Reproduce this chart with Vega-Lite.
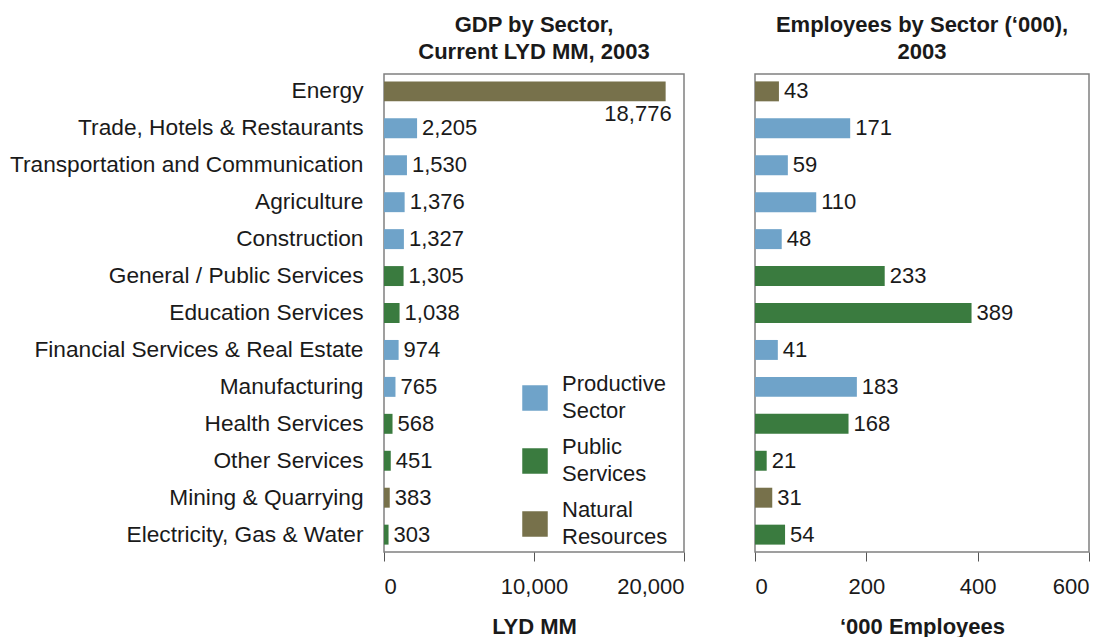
{
  "$schema": "https://vega.github.io/schema/vega-lite/v6.json",
  "background": "white",
  "padding": {"left": 8, "top": 13, "right": 5, "bottom": 5},
  "data": {"values": [
    {"sector": "Energy", "gdp": 18776, "emp": 43, "group": "Natural Resources"},
    {"sector": "Trade, Hotels & Restaurants", "gdp": 2205, "emp": 171, "group": "Productive Sector"},
    {"sector": "Transportation and Communication", "gdp": 1530, "emp": 59, "group": "Productive Sector"},
    {"sector": "Agriculture", "gdp": 1376, "emp": 110, "group": "Productive Sector"},
    {"sector": "Construction", "gdp": 1327, "emp": 48, "group": "Productive Sector"},
    {"sector": "General / Public Services", "gdp": 1305, "emp": 233, "group": "Public Services"},
    {"sector": "Education Services", "gdp": 1038, "emp": 389, "group": "Public Services"},
    {"sector": "Financial Services & Real Estate", "gdp": 974, "emp": 41, "group": "Productive Sector"},
    {"sector": "Manufacturing", "gdp": 765, "emp": 183, "group": "Productive Sector"},
    {"sector": "Health Services", "gdp": 568, "emp": 168, "group": "Public Services"},
    {"sector": "Other Services", "gdp": 451, "emp": 21, "group": "Public Services"},
    {"sector": "Mining & Quarrying", "gdp": 383, "emp": 31, "group": "Natural Resources"},
    {"sector": "Electricity, Gas & Water", "gdp": 303, "emp": 54, "group": "Public Services"}
  ]},
  "hconcat": [
    {
      "width": 300,
      "height": 478,
      "title": {"text": ["GDP by Sector,", "Current LYD MM, 2003"]},
      "encoding": {
        "y": {"field": "sector", "type": "nominal", "sort": null, "title": null,
              "scale": {"paddingInner": 0.46, "paddingOuter": 0.2},
              "axis": {"ticks": false, "domain": false, "labelPadding": 21, "labelLimit": 500, "labelFontSize": 22.7}},
        "x": {"field": "gdp", "type": "quantitative", "title": "LYD MM",
              "scale": {"domain": [0, 20000], "nice": false},
              "axis": {"values": [0, 10000, 20000], "format": ",d", "grid": false}}
      },
      "layer": [
        {"mark": {"type": "bar"},
         "encoding": {"color": {"field": "group", "type": "nominal",
            "scale": {"domain": ["Productive Sector", "Public Services", "Natural Resources"], "range": ["#6fa3c9", "#3a7b3f", "#77714b"]},
            "legend": {"orient": "none", "legendX": 138, "legendY": 311, "title": null,
              "symbolType": "square", "symbolSize": 650, "symbolStrokeWidth": 0, "symbolOpacity": 1,
              "labelFontSize": 22, "labelBaseline": "line-bottom", "labelExpr": "split(datum.label, ' ')", "labelOffset": 14, "rowPadding": 14}}}},
        {"transform": [{"filter": "datum.gdp < 10000"}],
         "mark": {"type": "text", "align": "left", "dx": 5, "fontSize": 22, "color": "#1a1a1a"},
         "encoding": {"text": {"field": "gdp", "type": "quantitative", "format": ",d"}}},
        {"transform": [{"filter": "datum.gdp >= 10000"}],
         "mark": {"type": "text", "align": "right", "dx": 6, "dy": 23, "fontSize": 22, "color": "#1a1a1a"},
         "encoding": {"text": {"field": "gdp", "type": "quantitative", "format": ",d"}}}
      ]
    },
    {
      "width": 334,
      "height": 478,
      "title": {"text": ["Employees by Sector (\u2018000),", "2003"]},
      "encoding": {
        "y": {"field": "sector", "type": "nominal", "sort": null, "title": null,
              "scale": {"paddingInner": 0.46, "paddingOuter": 0.2},
              "axis": null},
        "x": {"field": "emp", "type": "quantitative", "title": "\u2018000 Employees",
              "scale": {"domain": [0, 600], "nice": false},
              "axis": {"values": [0, 200, 400, 600], "format": ",d", "grid": false}}
      },
      "layer": [
        {"mark": {"type": "bar"},
         "encoding": {"color": {"field": "group", "type": "nominal",
            "scale": {"domain": ["Productive Sector", "Public Services", "Natural Resources"], "range": ["#6fa3c9", "#3a7b3f", "#77714b"]},
            "legend": null}}},
        {"mark": {"type": "text", "align": "left", "dx": 5, "fontSize": 22, "color": "#1a1a1a"},
         "encoding": {"text": {"field": "emp", "type": "quantitative", "format": ",d"}}}
      ]
    }
  ],
  "spacing": 71,
  "bounds": "flush",
  "resolve": {"scale": {"color": "shared"}},
  "config": {
    "font": "Liberation Sans",
    "view": {"stroke": "#808080", "strokeWidth": 1.5},
    "title": {"fontSize": 22, "fontWeight": "bold", "color": "#1a1a1a", "anchor": "middle", "offset": 10, "lineHeight": 27},
    "axis": {"labelFontSize": 22, "labelColor": "#1a1a1a", "titleFontSize": 22, "titleFontWeight": "bold", "titleColor": "#1a1a1a",
             "domain": false, "tickColor": "#555", "tickSize": 9, "labelPadding": 15, "titlePadding": 19},
    "style": {"guide-label": {"lineHeight": 27}},
    "legend": {"labelColor": "#1a1a1a"}
  }
}
